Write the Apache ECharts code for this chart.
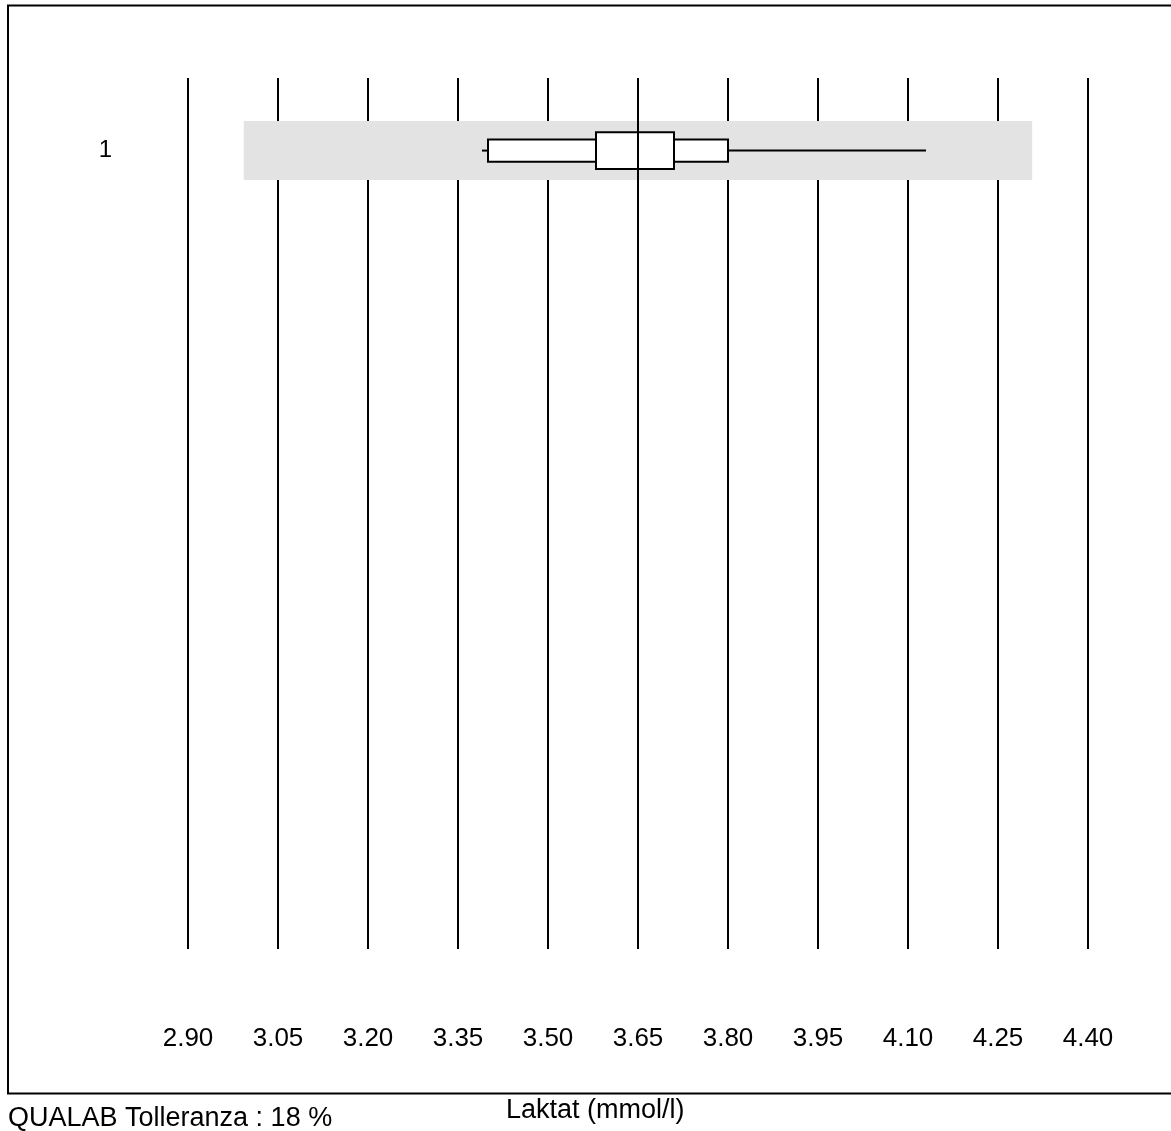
<!DOCTYPE html>
<html>
<head>
<meta charset="utf-8">
<script src="https://cdn.jsdelivr.net/npm/echarts@6/dist/echarts.min.js"></script>
<style>
html, body { margin: 0; padding: 0; background: #fff; }
#chart { width: 1171px; height: 1131px; }
</style>
</head>
<body>
<div id="chart"></div>
<script>
// rows (only the first one is used)
var rows = ['1', '', '', '', '', ''];
// x axis
var xMin = 2.90;
var xMax = 4.40;
var xStep = 0.15;
// tolerance band around the target (QUALAB 18 %)
var bandLow = [2.993];
var bandHigh = [4.307];
// distribution of results
var whiskerLow = [3.39];
var p10 = [3.40];
var q1 = [3.58];
var median = [3.65];
var q3 = [3.71];
var p90 = [3.80];
var whiskerHigh = [4.13];

var font = "'Liberation Sans', Arial, sans-serif";

var seriesData = [];
for (var i = 0; i < median.length; i++) {
	seriesData.push([i, bandLow[i], bandHigh[i], whiskerLow[i], p10[i], q1[i], median[i], q3[i], p90[i], whiskerHigh[i]]);
}

/* band + box drawing */
function renderItem(params, api) {
	var row = api.value(0);
	var h = api.size([0, 1])[1];
	var yc = api.coord([0, row])[1];
	function px(dim) {
		return api.coord([api.value(dim), row])[0];
	}
	var line = { stroke: '#000', lineWidth: 2, fill: null };
	var box = { stroke: '#000', lineWidth: 2, fill: '#fff' };
	var bandH = h * 0.406;
	var innerH = h * 0.253;
	var outerH = h * 0.154;
	return {
		type: 'group',
		children: [
			{ type: 'rect', shape: { x: px(1), y: yc - bandH / 2, width: px(2) - px(1), height: bandH }, style: { fill: '#e3e3e3' } },
			{ type: 'line', shape: { x1: px(3), y1: yc, x2: px(4), y2: yc }, style: line },
			{ type: 'line', shape: { x1: px(8), y1: yc, x2: px(9), y2: yc }, style: line },
			{ type: 'rect', shape: { x: px(4), y: yc - outerH / 2, width: px(8) - px(4), height: outerH }, style: box },
			{ type: 'rect', shape: { x: px(5), y: yc - innerH / 2, width: px(7) - px(5), height: innerH }, style: box },
			{ type: 'line', shape: { x1: px(6), y1: yc - bandH / 2, x2: px(6), y2: yc + bandH / 2 }, style: line }
		]
	};
}

var myChart = echarts.init(document.getElementById('chart'));
var option = {
	backgroundColor: '#fff',
	animation: false,
	grid: {
		left: 188,
		width: 900,
		top: 78,
		height: 871
	},
	xAxis: {
		type: 'value',
		min: xMin,
		max: xMax,
		interval: xStep,
		axisLine: { show: false },
		axisTick: { show: false },
		splitLine: { show: true, lineStyle: { color: '#000', width: 2 } },
		axisLabel: {
			margin: 77,
			fontSize: 26,
			color: '#000',
			fontFamily: font,
			formatter: function(v) { return v.toFixed(2); }
		}
	},
	yAxis: {
		type: 'category',
		data: rows,
		inverse: true,
		axisLine: { show: false },
		axisTick: { show: false },
		splitLine: { show: false },
		axisLabel: { margin: 76, fontSize: 24, color: '#000', fontFamily: font }
	},
	series: [{
		type: 'custom',
		renderItem: renderItem,
		encode: { x: [1, 2, 3, 4, 5, 6, 7, 8, 9], y: 0 },
		data: seriesData,
		z: 5
	}],
	graphic: [
		{ type: 'rect', z: 10, shape: { x: 8, y: 5.5, width: 1200, height: 1088 }, style: { fill: null, stroke: '#000', lineWidth: 2 } },
		{ type: 'text', z: 10, left: 8, top: 1105, style: { text: 'QUALAB Tolleranza : 18 %', fontSize: 27, fill: '#000', fontFamily: font } },
		{ type: 'text', z: 10, left: 506, top: 1097, style: { text: 'Laktat (mmol/l)', fontSize: 27, fill: '#000', fontFamily: font } }
	]
};
myChart.setOption(option);
</script>
</body>
</html>
